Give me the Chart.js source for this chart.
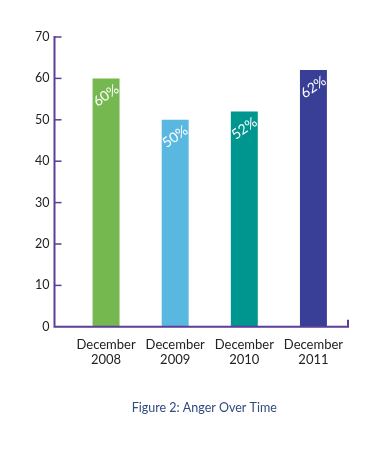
<!DOCTYPE html>
<html>
<head>
<meta charset="utf-8">
<script src="https://cdn.jsdelivr.net/npm/chart.js@4"></script>
<style>
  html, body { margin: 0; padding: 0; background: #fff; }
  #wrap { width: 390px; height: 449px; }
</style>
</head>
<body>
<div id="wrap"><canvas id="myChart" width="390" height="449"></canvas></div>
<script>
// Dados do gráfico
var categories = [['December', '2008'], ['December', '2009'], ['December', '2010'], ['December', '2011']];
var values = [60, 50, 52, 62];
var barColors = ['#74b84f', '#5ab8e0', '#009690', '#393e97'];
var yTicks = [0, 10, 20, 30, 40, 50, 60, 70];
var axisColor = '#5c3d98';
var caption = 'Figure 2: Anger Over Time';

// Eixos desenhados à mão (linha roxa deslocada à esquerda da área) + legenda da figura
var axisPlugin = {
    id: 'axisLines',
    afterDraw: function (chart) {
        var ctx = chart.ctx, area = chart.chartArea, y = chart.scales.y;
        var ax = area.left - 17;
        ctx.save();
        ctx.strokeStyle = axisColor;
        ctx.lineWidth = 2;
        ctx.beginPath();
        ctx.moveTo(ax, y.getPixelForValue(70) - 1);
        ctx.lineTo(ax, area.bottom);
        ctx.lineTo(area.right, area.bottom);
        ctx.lineTo(area.right, area.bottom - 7);
        ctx.stroke();
        ctx.lineWidth = 1.5;
        yTicks.forEach(function (t) {
            if (t === 0) return;
            var py = y.getPixelForValue(t);
            ctx.beginPath();
            ctx.moveTo(ax, py);
            ctx.lineTo(ax + 7, py);
            ctx.stroke();
        });
        // legenda
        ctx.fillStyle = '#2f4b80';
        ctx.font = '12.5px Lato';
        ctx.textAlign = 'center';
        ctx.textBaseline = 'middle';
        ctx.fillText(caption, (ax + area.right) / 2 + 3, chart.height - 41);
        ctx.restore();
    }
};

// Rótulos de porcentagem inclinados dentro das barras
var labelPlugin = {
    id: 'barLabels',
    afterDatasetsDraw: function (chart) {
        var ctx = chart.ctx;
        var meta = chart.getDatasetMeta(0);
        ctx.save();
        ctx.fillStyle = '#ffffff';
        ctx.font = '14px Lato';
        ctx.textAlign = 'center';
        ctx.textBaseline = 'middle';
        meta.data.forEach(function (bar, i) {
            ctx.save();
            ctx.translate(bar.x, bar.y + 17);
            ctx.rotate(-35 * Math.PI / 180);
            ctx.fillText(values[i] + '%', 0, 0);
            ctx.restore();
        });
        ctx.restore();
    }
};

var config = {
    type: 'bar',
    data: {
        labels: categories,
        datasets: [{
            data: values,
            backgroundColor: barColors,
            borderWidth: 0,
            categoryPercentage: 1,
            barPercentage: 0.39
        }]
    },
    options: {
        responsive: false,
        animation: false,
        layout: { padding: { left: 13, right: 42, top: 37, bottom: 71 } },
        plugins: {
            legend: { display: false },
            tooltip: { enabled: false },
            title: { display: false }
        },
        scales: {
            x: {
                grid: { display: false, drawTicks: false },
                border: { display: false },
                ticks: {
                    color: '#222',
                    font: { family: 'Lato', size: 13 },
                    padding: 10,
                    maxRotation: 0
                }
            },
            y: {
                min: 0,
                max: 70,
                afterBuildTicks: function (scale) {
                    scale.ticks = yTicks.map(function (v) { return { value: v }; });
                },
                grid: { display: false, drawTicks: false },
                border: { display: false },
                ticks: {
                    color: '#222',
                    font: { family: 'Lato', size: 12.5 },
                    padding: 22
                }
            }
        }
    },
    plugins: [axisPlugin, labelPlugin]
};

var ctx = document.getElementById('myChart').getContext('2d');
new Chart(ctx, config);
</script>
</body>
</html>
